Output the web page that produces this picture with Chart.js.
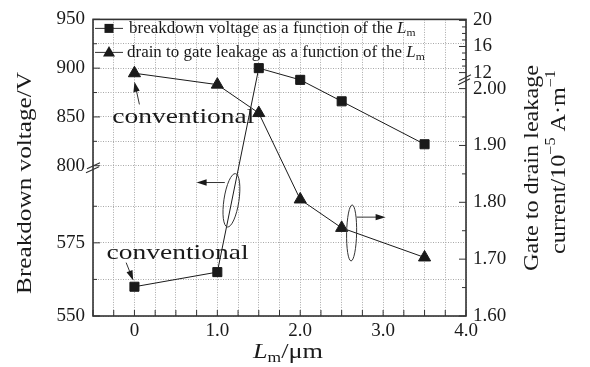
<!DOCTYPE html>
<html>
<head>
<meta charset="utf-8">
<script src="https://cdn.jsdelivr.net/npm/chart.js@4.4.1/dist/chart.umd.min.js"></script>
<style>
  html, body { margin: 0; padding: 0; background: #fff; }
</style>
</head>
<body>
<canvas id="c" width="590" height="367"></canvas>
<script>
// data
const lengths = [0, 1.0, 1.5, 2.0, 2.5, 3.5];            // L_m / um
const breakdownV = [560, 565, 900, 888, 866, 822];       // V (left axis)
const leakage = [11.9, 2.007, 1.957, 1.805, 1.755, 1.703]; // 10^-5 A/m (right axis)

// ticks
const xTickVals = [-0.5, -0.25, 0, 0.25, 0.5, 0.75, 1, 1.25, 1.5, 1.75, 2, 2.25, 2.5, 2.75, 3, 3.25, 3.5, 3.75, 4];
const xTickText = { 0: '0', 1: '1.0', 2: '2.0', 3: '3.0', 4: '4.0' };
const leftTickVals = [550, 562.5, 575, 587.5, 800, 825, 850, 875, 900, 925, 950];
const leftTickText = ['550', '', '575', '', '800', '', '850', '', '900', '', '950'];
const rightTickVals = [1.60, 1.65, 1.70, 1.75, 1.80, 1.85, 1.90, 1.95, 2.00, 12, 13, 14, 15, 16, 17, 18, 19, 20];
const rightTickText = ['1.60', '', '1.70', '', '1.80', '', '1.90', '', '2.00', '12', '', '', '', '16', '', '', '', '20'];

// both y axes are broken; values go onto a 0..300 axis through these
// left: 550-600 below the break, 800-950 above
function vLeft(v) { return v <= 700 ? (v - 550) * 2.96 : 152 + (v - 800) * 0.987; }
// right: 1.60-2.02 below the break, 12-20 above
function vRight(v) { return v <= 5 ? (v - 1.6) * 575 : 299 - (20 - v) * 6.6; }
const LEFT_BREAK = 150, RIGHT_BREAK = 240;

const FONT = '"Liberation Serif", "Times New Roman", serif';
const INK = '#1a1a1a';

// annotations: x in um, y on the left (virtual) axis
const notes = [
  { text: 'conventional', x: 0.59, y: 201 },
  { text: 'conventional', x: 0.52, y: 64 }
];
const arrows = [
  { x1: 0.06, y1: 214, x2: 0.0, y2: 237 },
  { x1: -0.10, y1: 54, x2: -0.015, y2: 36 },
  { x1: 1.09, y1: 135, x2: 0.75, y2: 135 },
  { x1: 2.68, y1: 100, x2: 3.03, y2: 100 }
];
const ellipses = [
  { x: 1.17, y: 117, rx: 7.5, ry: 27, rot: 0.15 },
  { x: 2.62, y: 84, rx: 5, ry: 28, rot: 0.02 }
];

// draws text pieces: [str, style] with style '', 'i', 'sub', 'sup'
// the reference face is wider than Times, so text gets a horizontal stretch
function richText(ctx, parts, x, y, size, align, stretch) {
  stretch = stretch || 1;
  const fontOf = st => st === 'i' ? `italic ${size}px ${FONT}` :
    (st === 'sub' || st === 'sup') ? `${Math.round(size * 0.68)}px ${FONT}` : `${size}px ${FONT}`;
  let w = 0;
  parts.forEach(([s, st]) => { ctx.font = fontOf(st); w += ctx.measureText(s).width; });
  const start = align === 'center' ? x - w * stretch / 2 : x;
  ctx.save();
  ctx.translate(start, y);
  ctx.scale(stretch, 1);
  ctx.textBaseline = 'middle';
  ctx.textAlign = 'left';
  let cx = 0;
  parts.forEach(([s, st]) => {
    ctx.font = fontOf(st);
    const dy = st === 'sub' ? size * 0.28 : st === 'sup' ? -size * 0.36 : 0;
    ctx.fillText(s, cx, dy);
    cx += ctx.measureText(s).width;
  });
  ctx.restore();
}

function arrow(ctx, x1, y1, x2, y2) {
  const ang = Math.atan2(y2 - y1, x2 - x1), L = 10, W = 3.2;
  ctx.beginPath();
  ctx.moveTo(x1, y1);
  ctx.lineTo(x2 - Math.cos(ang) * L * 0.8, y2 - Math.sin(ang) * L * 0.8);
  ctx.stroke();
  ctx.beginPath();
  ctx.moveTo(x2, y2);
  ctx.lineTo(x2 - Math.cos(ang) * L - Math.sin(ang) * W, y2 - Math.sin(ang) * L + Math.cos(ang) * W);
  ctx.lineTo(x2 - Math.cos(ang) * L + Math.sin(ang) * W, y2 - Math.sin(ang) * L - Math.cos(ang) * W);
  ctx.closePath();
  ctx.fill();
}

const decor = {
  id: 'decor',
  afterDraw(chart) {
    const { ctx, chartArea: a, scales } = chart;
    const sx = scales.x, sy = scales.y, sr = scales.y1;
    ctx.save();
    ctx.strokeStyle = '#333';
    ctx.fillStyle = INK;

    // inward ticks
    ctx.lineWidth = 1;
    ctx.beginPath();
    xTickVals.forEach(v => {
      const p = sx.getPixelForValue(v);
      ctx.moveTo(p, a.bottom); ctx.lineTo(p, a.bottom - 6);
    });
    leftTickVals.forEach((v, i) => {
      const p = sy.getPixelForValue(vLeft(v));
      ctx.moveTo(a.left, p); ctx.lineTo(a.left + (leftTickText[i] ? 7 : 4), p);
    });
    rightTickVals.forEach((v, i) => {
      const p = sr.getPixelForValue(vRight(v));
      ctx.moveTo(a.right, p); ctx.lineTo(a.right - (rightTickText[i] ? 7 : 4), p);
    });
    ctx.stroke();

    // frame
    ctx.lineWidth = 1.6;
    ctx.strokeRect(a.left, a.top, a.right - a.left, a.bottom - a.top);

    // axis break marks
    ctx.lineWidth = 1.2;
    const bl = sy.getPixelForValue(LEFT_BREAK), br = sr.getPixelForValue(RIGHT_BREAK);
    ctx.beginPath();
    ctx.moveTo(a.left - 6, bl + 1); ctx.lineTo(a.left + 7, bl - 5);
    ctx.moveTo(a.left - 7, bl + 5); ctx.lineTo(a.left + 6, bl - 1);
    ctx.moveTo(a.right - 7, br + 2); ctx.lineTo(a.right + 5, br - 4);
    ctx.moveTo(a.right - 8, br + 6); ctx.lineTo(a.right + 4, br);
    ctx.stroke();

    // axis titles
    ctx.save();
    ctx.translate(25, 183); ctx.rotate(-Math.PI / 2);
    richText(ctx, [['Breakdown voltage/V', '']], 0, 0, 21, 'center', 1.2);
    ctx.restore();
    ctx.save();
    ctx.translate(532, 168); ctx.rotate(-Math.PI / 2);
    richText(ctx, [['Gate to drain leakage', '']], 0, 0, 21, 'center', 1.15);
    ctx.restore();
    ctx.save();
    ctx.translate(559, 162); ctx.rotate(-Math.PI / 2);
    richText(ctx, [['current/10', ''], ['\u22125', 'sup'], [' A\u00b7m', ''], ['\u22121', 'sup']], 0, 0, 21, 'center', 1.15);
    ctx.restore();
    richText(ctx, [['L', 'i'], ['m', 'sub'], ['/\u03bcm', '']], 288, 352, 21, 'center', 1.25);

    // legend
    ctx.lineWidth = 1;
    const lx = a.left, rows = [a.top + 9, a.top + 33];
    ctx.beginPath();
    rows.forEach(y => { ctx.moveTo(lx + 2, y); ctx.lineTo(lx + 30, y); });
    ctx.stroke();
    ctx.fillRect(lx + 16 - 4.5, rows[0] - 4.5, 9, 9);
    ctx.beginPath();
    ctx.moveTo(lx + 16, rows[1] - 6.5);
    ctx.lineTo(lx + 22, rows[1] + 4);
    ctx.lineTo(lx + 10, rows[1] + 4);
    ctx.closePath(); ctx.fill();
    richText(ctx, [['breakdown voltage as a function of the ', ''], ['L', 'i'], ['m', 'sub']], lx + 36, rows[0], 16, 'left', 1.06);
    richText(ctx, [['drain to gate leakage as a function of the ', ''], ['L', 'i'], ['m', 'sub']], lx + 34, rows[1], 16, 'left', 1.06);

    // annotations
    notes.forEach(n => richText(ctx, [[n.text, '']], sx.getPixelForValue(n.x), sy.getPixelForValue(n.y), 22, 'center', 1.25));
    ctx.lineWidth = 1;
    arrows.forEach(r => arrow(ctx, sx.getPixelForValue(r.x1), sy.getPixelForValue(r.y1),
      sx.getPixelForValue(r.x2), sy.getPixelForValue(r.y2)));
    ellipses.forEach(e => {
      ctx.beginPath();
      ctx.ellipse(sx.getPixelForValue(e.x), sy.getPixelForValue(e.y), e.rx, e.ry, e.rot, 0, Math.PI * 2);
      ctx.stroke();
    });
    ctx.restore();
  }
};

const gridStyle = { color: '#a8a8a8', lineWidth: 1, drawTicks: false };
const tickFont = { family: FONT, size: 19 };

new Chart(document.getElementById('c'), {
  type: 'line',
  data: {
    datasets: [{
      label: 'breakdown voltage as a function of the Lm',
      data: lengths.map((x, i) => ({ x, y: vLeft(breakdownV[i]) })),
      yAxisID: 'y',
      borderColor: INK, backgroundColor: INK,
      borderWidth: 1, pointStyle: 'rect', pointRadius: 6.4, pointHoverRadius: 6.4,
      tension: 0
    }, {
      label: 'drain to gate leakage as a function of the Lm',
      data: lengths.map((x, i) => ({ x, y: vRight(leakage[i]) })),
      yAxisID: 'y1',
      borderColor: INK, backgroundColor: INK,
      borderWidth: 1, pointStyle: 'triangle', pointRadius: 7, pointHoverRadius: 7,
      tension: 0
    }]
  },
  options: {
    responsive: false,
    animation: false,
    devicePixelRatio: 1,
    layout: { padding: { top: 16, left: 0, right: 0, bottom: 0 } },
    plugins: { legend: { display: false }, tooltip: { enabled: false } },
    scales: {
      x: {
        type: 'linear', min: -0.5, max: 4,
        afterBuildTicks: s => { s.ticks = xTickVals.map(v => ({ value: v })); },
        afterFit: s => { s.height = 51; },
        ticks: { autoSkip: false, maxRotation: 0, padding: 4, color: INK, font: tickFont,
          callback: v => xTickText[v] || '' },
        grid: gridStyle,
        border: { display: false, dash: [1, 1.5] }
      },
      y: {
        position: 'left', min: 0, max: 300,
        afterBuildTicks: s => { s.ticks = leftTickVals.map(v => ({ value: vLeft(v) })); },
        afterFit: s => { s.width = 93; },
        ticks: { autoSkip: false, padding: 8, color: INK, font: tickFont,
          callback: (v, i) => leftTickText[i] },
        grid: gridStyle,
        border: { display: false, dash: [1, 1.5] }
      },
      y1: {
        position: 'right', min: 0, max: 300,
        afterBuildTicks: s => { s.ticks = rightTickVals.map(v => ({ value: vRight(v) })); },
        afterFit: s => { s.width = 124; },
        ticks: { autoSkip: false, padding: 7, color: INK, font: tickFont,
          callback: (v, i) => rightTickText[i] },
        grid: { display: false, drawTicks: false },
        border: { display: false }
      }
    }
  },
  plugins: [decor]
});
</script>
</body>
</html>
